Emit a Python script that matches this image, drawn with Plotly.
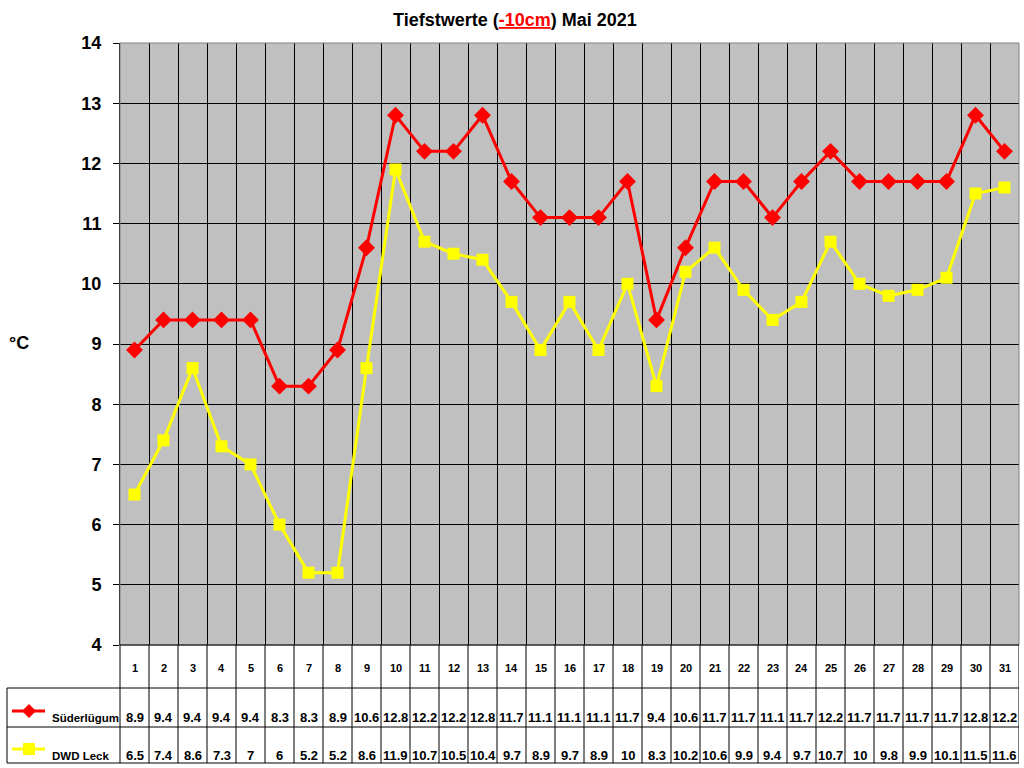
import plotly.graph_objects as go

days = list(range(1, 32))
suederluegum = [8.9, 9.4, 9.4, 9.4, 9.4, 8.3, 8.3, 8.9, 10.6, 12.8, 12.2, 12.2, 12.8, 11.7, 11.1, 11.1,
                11.1, 11.7, 9.4, 10.6, 11.7, 11.7, 11.1, 11.7, 12.2, 11.7, 11.7, 11.7, 11.7, 12.8, 12.2]
dwd_leck = [6.5, 7.4, 8.6, 7.3, 7, 6, 5.2, 5.2, 8.6, 11.9, 10.7, 10.5, 10.4, 9.7, 8.9, 9.7,
            8.9, 10, 8.3, 10.2, 10.6, 9.9, 9.4, 9.7, 10.7, 10, 9.8, 9.9, 10.1, 11.5, 11.6]
series_names = ["Süderlügum", "DWD Leck"]
y_ticks = list(range(4, 15))

W, H = 1024, 768
FONT = "Liberation Sans, Arial, sans-serif"
RED = "#FF0000"
YELLOW = "#FFFF00"


def px(x):
    return x / W


def py(y):
    return 1 - y / H


# plot area and table rows, in pixels
L, R, T, B = 120, 1019, 43, 645
ROW1, ROW2, ROW3 = 688, 727, 763
TL = 7

fig = go.Figure()

fig.add_trace(go.Scatter(
    x=days, y=suederluegum, mode="lines+markers", name=series_names[0],
    line=dict(color=RED, width=3),
    marker=dict(symbol="diamond", size=13, color=RED),
    hoverinfo="skip",
))
fig.add_trace(go.Scatter(
    x=days, y=dwd_leck, mode="lines+markers", name=series_names[1],
    line=dict(color=YELLOW, width=3),
    marker=dict(symbol="square", size=12, color=YELLOW),
    hoverinfo="skip",
))

shapes = []
line_k = dict(color="black", width=1)
# grey frame of the plot area
shapes.append(dict(type="rect", xref="paper", yref="paper", x0=px(L), x1=px(R), y0=py(B), y1=py(T),
                   line=dict(color="#808080", width=1)))
# table lines
shapes.append(dict(type="line", xref="paper", yref="paper", x0=px(L), x1=px(R), y0=py(B), y1=py(B), line=line_k))
for yy in (ROW1, ROW2, ROW3):
    shapes.append(dict(type="line", xref="paper", yref="paper", x0=px(TL), x1=px(R), y0=py(yy), y1=py(yy),
                       line=line_k))
shapes.append(dict(type="line", xref="paper", yref="paper", x0=px(TL), x1=px(TL), y0=py(ROW1), y1=py(ROW3),
                   line=line_k))
shapes.append(dict(type="line", xref="paper", yref="paper", x0=px(L), x1=px(L), y0=py(B), y1=py(ROW3),
                   line=line_k))
for d in days:
    shapes.append(dict(type="line", xref="x", yref="paper", x0=d + 0.5, x1=d + 0.5, y0=py(B), y1=py(ROW3),
                       line=line_k))


# legend keys
def key_line(yc, color):
    return dict(type="line", xref="paper", yref="paper", x0=px(12), x1=px(45), y0=py(yc), y1=py(yc),
                line=dict(color=color, width=3))


shapes.append(key_line(711, RED))
shapes.append(dict(type="path", xref="paper", yref="paper",
                   path=f"M {px(29 - 7)},{py(711)} L {px(29)},{py(711 - 7)} L {px(29 + 7)},{py(711)} "
                        f"L {px(29)},{py(711 + 7)} Z",
                   fillcolor=RED, line=dict(color=RED, width=0)))
shapes.append(key_line(749, YELLOW))
shapes.append(dict(type="rect", xref="paper", yref="paper", x0=px(23), x1=px(35), y0=py(755), y1=py(743),
                   fillcolor=YELLOW, line=dict(color=YELLOW, width=0)))


def note(x, y, text, size, xref="paper", xanchor="center"):
    return dict(x=x, y=y, xref=xref, yref="paper", text=text, showarrow=False,
                xanchor=xanchor, yanchor="middle",
                font=dict(family=FONT, size=size, color="black", weight="bold"))


annotations = []
for d, a, b in zip(days, suederluegum, dwd_leck):
    annotations.append(note(d, py(668), str(d), 11, xref="x"))
    annotations.append(note(d, py(717), f"{a:g}", 13, xref="x"))
    annotations.append(note(d, py(755), f"{b:g}", 13, xref="x"))
annotations.append(note(px(50), py(718), series_names[0], 11.5, xanchor="left"))
annotations.append(note(px(50), py(756), series_names[1], 11.5, xanchor="left"))
annotations.append(note(px(19), py(343), "°C", 18))
annotations.append(note(px(515), py(20),
                        "Tiefstwerte (<span style='color:#FF0000'><u>-10cm</u></span>) Mai 2021", 18))

fig.update_layout(
    width=W, height=H,
    margin=dict(l=0, r=0, t=0, b=0, pad=0),
    paper_bgcolor="white",
    plot_bgcolor="#C0C0C0",
    showlegend=False,
    font=dict(family=FONT, color="black"),
    xaxis=dict(
        domain=[px(L), px(R)], range=[0.5, 31.5], automargin=False,
        tickvals=[d + 0.5 for d in days[:-1]], showticklabels=False, ticks="",
        showgrid=True, gridcolor="black", gridwidth=1, zeroline=False, showline=False, fixedrange=True,
    ),
    yaxis=dict(
        domain=[py(B), py(T)], range=[4, 14], tickvals=y_ticks, automargin=False,
        ticks="outside", ticklen=6, tickcolor="black", tickwidth=1, ticklabelstandoff=8,
        tickfont=dict(family=FONT, size=18, color="black", weight="bold"),
        showgrid=True, gridcolor="black", gridwidth=1, zeroline=False,
        showline=True, linecolor="black", linewidth=1, fixedrange=True,
    ),
    shapes=shapes,
    annotations=annotations,
)

fig.write_html("out.html", config={"displayModeBar": False},
               post_script="document.body.style.margin='0';")
